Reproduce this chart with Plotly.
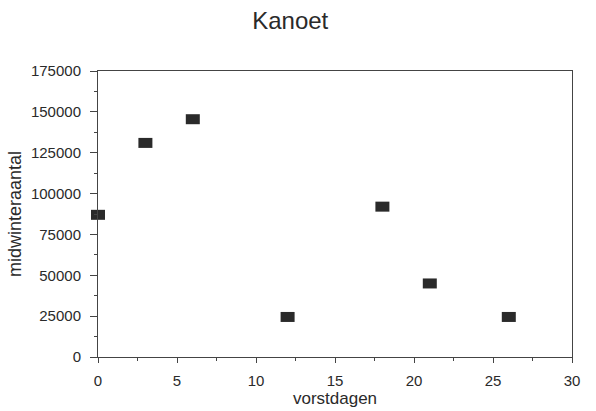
import plotly.graph_objects as go

# Winter frost days vs. midwinter count (Kanoet)
vorstdagen = [0, 3, 6, 12, 18, 21, 26]
midwinteraantal = [87000, 131000, 145500, 24500, 92000, 45000, 24500]

x_ticks = [0, 5, 10, 15, 20, 25, 30]
y_ticks = [0, 25000, 50000, 75000, 100000, 125000, 150000, 175000]

font_family = "Liberation Sans, Arial, sans-serif"
ink = "#2a2a2a"
axis_ink = "#444444"

fig = go.Figure()
fig.add_trace(go.Scatter(
    x=vorstdagen,
    y=midwinteraantal,
    mode="markers",
    marker=dict(
        symbol="line-ew",
        size=10,
        color=ink,
        line=dict(color=ink, width=10),
    ),
    cliponaxis=False,
    showlegend=False,
))

axis_common = dict(
    showline=True,
    linecolor=axis_ink,
    linewidth=1,
    mirror=True,
    showgrid=False,
    zeroline=False,
    automargin=False,
    ticks="outside",
    tickcolor=axis_ink,
    tickfont=dict(family=font_family, size=15, color=ink),
)

fig.update_xaxes(
    range=[0, 30],
    tickvals=x_ticks,
    ticktext=[str(v) for v in x_ticks],
    ticklen=5,
    ticklabelstandoff=5,
    minor=dict(ticks="outside", dtick=2.5, ticklen=3, tickcolor=axis_ink),
    title=dict(text="vorstdagen", font=dict(family=font_family, size=17, color=ink), standoff=2),
    **axis_common,
)
fig.update_yaxes(
    range=[0, 175000],
    tickvals=y_ticks,
    ticktext=[str(v) for v in y_ticks],
    ticklen=7,
    ticklabelstandoff=6,
    minor=dict(ticks="outside", dtick=12500, ticklen=3, tickcolor=axis_ink),
    title=dict(text="midwinteraantal", font=dict(family=font_family, size=18, color=ink), standoff=4),
    **axis_common,
)

fig.update_layout(
    width=596,
    height=411,
    margin=dict(l=98, r=24, t=71, b=54),
    paper_bgcolor="white",
    plot_bgcolor="white",
    title=dict(
        text="Kanoet",
        x=0.487,
        xanchor="center",
        y=0.95,
        yanchor="middle",
        font=dict(family=font_family, size=24, color=ink),
    ),
)

fig.write_html("out.html")
